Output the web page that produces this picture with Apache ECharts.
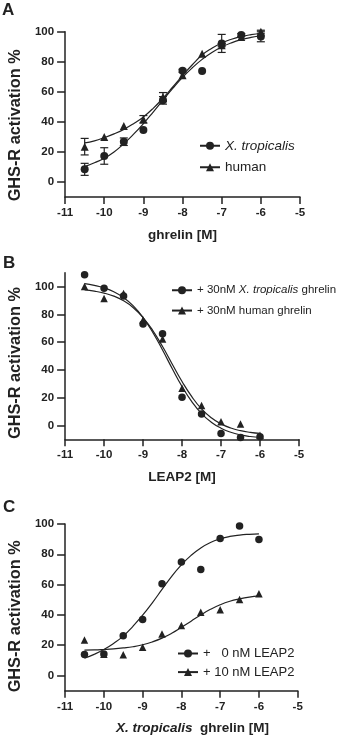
<!DOCTYPE html>
<html>
<head>
<meta charset="utf-8">
<script src="https://cdn.jsdelivr.net/npm/echarts@6/dist/echarts.min.js"></script>
<style>
html,body{margin:0;padding:0;background:#fff;}
#chart{width:338px;height:737px;}
</style>
</head>
<body>
<div id="chart"></div>
<script>
// ---------- data ----------
const doses = [-10.5, -10, -9.5, -9, -8.5, -8, -7.5, -7, -6.5, -6];
const xTicks = [-11, -10, -9, -8, -7, -6, -5];
const yTicks = [0, 20, 40, 60, 80, 100];
const curveX = [-10.5, -10.25, -10, -9.75, -9.5, -9.25, -9, -8.75, -8.5, -8.25, -8, -7.75, -7.5, -7.25, -7, -6.75, -6.5, -6.25, -6];

// Panel A: ghrelin dose response
const aTrop = [8.4, 17.3, 26.8, 34.6, 54.3, 74, 73.8, 92.2, 97.8, 96.8];
const aTropErr = [4, 5.5, 2.5, 0, 2.5, 1, 0, 6, 1, 3.5];
const aHuman = [23.5, 30, 37.3, 41.7, 56.5, 71, 85.3, 91, 96.5, 100];
const aHumanErr = [5.5, 0, 0, 2.5, 3, 0, 0, 1, 0, 1];
const aTropFit = [10.2, 12.8, 15.8, 20, 25.5, 31.8, 38.8, 46.5, 54.5, 62.3, 69.6, 76, 81.6, 86.2, 89.8, 92.6, 94.7, 96.2, 97.3];
const aHumanFit = [26, 27.4, 29.5, 32, 35, 38.8, 43.3, 49, 55.8, 63.2, 70.8, 78, 84.5, 89, 92.5, 95, 96.8, 98, 98.8];

// Panel B: LEAP2 inhibition
const bTrop = [108.5, 98.8, 93.2, 73, 66, 20.3, 8.2, -5.8, -8.7, -8.2];
const bHuman = [100, 91.5, 95, 76, 62.3, 26.8, 14.3, 2.7, 1, -7];
const bTropFit = [102.1, 100.9, 99.1, 96.3, 92.1, 86.1, 77.7, 66.9, 54.3, 40.8, 28, 17.1, 8.5, 2.3, -2, -4.9, -6.8, -8, -8.7];
const bHumanFit = [97.6, 96.7, 95.3, 93.1, 89.8, 84.8, 77.7, 68.3, 56.8, 44.1, 31.6, 20.7, 11.9, 5.5, 1.1, -1.9, -3.8, -5, -5.8];

// Panel C: ghrelin with/without LEAP2
const cZero = [13.9, 14.2, 26.3, 37, 60.6, 75, 69.9, 90.5, 98.7, 89.8];
const cTen = [23.5, 14, 13.7, 18.6, 27.4, 33, 41.8, 43.4, 50.2, 54];
const cZeroFit = [11.5, 14, 17.2, 21.2, 26, 32.5, 39.8, 48, 56.8, 65.5, 73, 79.3, 84.2, 87.8, 90.2, 91.8, 92.7, 93.2, 93.5];
const cTenFit = [16.8, 16.9, 17.2, 17.6, 18.2, 19, 20.3, 22.2, 24.7, 27.9, 31.8, 35.9, 40, 43.7, 46.7, 49, 50.6, 51.8, 52.6];

// ---------- styling ----------
const INK = '#222';
const FONT = '"Liberation Sans", Arial, Helvetica, sans-serif';

function pairs(xs, ys) { return xs.map((x, i) => [x, ys[i]]); }
function triples(xs, ys, es) { return xs.map((x, i) => [x, ys[i], es[i]]); }

function xAxisDef(gi, name, namePad) {
  return {
    type: 'value', gridIndex: gi, min: -11, max: -5, interval: 1,
    name: name, nameLocation: 'middle', nameGap: 31,
    nameTextStyle: { fontFamily: FONT, fontWeight: 'bold', fontSize: 13.5, color: INK, padding: namePad,
      rich: { i: { fontFamily: FONT, fontWeight: 'bold', fontStyle: 'italic', fontSize: 13.5, color: INK } } },
    axisLine: { show: true, onZero: false, lineStyle: { color: INK, width: 1.5 } },
    axisTick: { show: true, length: 7, customValues: xTicks, lineStyle: { color: INK, width: 1.5 } },
    axisLabel: { fontFamily: FONT, fontWeight: 'bold', fontSize: 11.5, color: INK, margin: 10, customValues: xTicks },
    splitLine: { show: false }
  };
}
function yAxisDef(gi, min, max, shiftPad) {
  return {
    type: 'value', gridIndex: gi, min: min, max: max,
    name: 'GHS-R activation %', nameLocation: 'middle', nameGap: 35,
    nameTextStyle: { fontFamily: FONT, fontWeight: 'bold', fontSize: 16.3, color: INK, padding: [0, shiftPad, 0, 0] },
    axisLine: { show: true, onZero: false, lineStyle: { color: INK, width: 1.5 } },
    axisTick: { show: true, length: 8, customValues: yTicks, lineStyle: { color: INK, width: 1.5 } },
    axisLabel: { fontFamily: FONT, fontWeight: 'bold', fontSize: 11.5, color: INK, margin: 11, customValues: yTicks },
    splitLine: { show: false }
  };
}

function fitSeries(name, gi, ys, symbol) {
  return {
    name: name, type: 'line', xAxisIndex: gi, yAxisIndex: gi,
    data: pairs(curveX, ys), smooth: true, showSymbol: false,
    symbol: symbol, symbolSize: 8,
    lineStyle: { color: INK, width: 1.2 }, itemStyle: { color: INK, opacity: 1 },
    z: 2, silent: true
  };
}
function pointSeries(gi, ys, symbol, size) {
  return {
    type: 'scatter', xAxisIndex: gi, yAxisIndex: gi,
    data: pairs(doses, ys), symbol: symbol, symbolSize: size,
    itemStyle: { color: INK, opacity: 1 }, z: 3, silent: true
  };
}
function errSeries(gi, ys, es) {
  return {
    type: 'custom', xAxisIndex: gi, yAxisIndex: gi,
    data: triples(doses, ys, es), z: 4, silent: true,
    renderItem: function (params, api) {
      const x = api.value(0), y = api.value(1), e = api.value(2);
      if (!e) return null;
      const t = api.coord([x, y + e]), b = api.coord([x, y - e]);
      const w = 4;
      const st = { stroke: INK, lineWidth: 1.2 };
      return { type: 'group', children: [
        { type: 'line', shape: { x1: t[0], y1: t[1], x2: b[0], y2: b[1] }, style: st },
        { type: 'line', shape: { x1: t[0] - w, y1: t[1], x2: t[0] + w, y2: t[1] }, style: st },
        { type: 'line', shape: { x1: b[0] - w, y1: b[1], x2: b[0] + w, y2: b[1] }, style: st }
      ] };
    }
  };
}

const legendNames = {
  aTrop: '{i|X. tropicalis}',
  aHuman: 'human',
  bTrop: '+ 30nM {i|X. tropicalis} ghrelin',
  bHuman: '+ 30nM human ghrelin',
  cZero: '+   0 nM LEAP2',
  cTen: '+ 10 nM LEAP2'
};
function legendDef(names, left, top, fontSize, gap) {
  return {
    data: names, left: left, top: top, orient: 'vertical', padding: 0,
    itemWidth: 20, itemHeight: 10, itemGap: gap,
    formatter: function (n) { return legendNames[n]; },
    textStyle: { fontFamily: FONT, fontSize: fontSize, color: INK, lineHeight: fontSize + 1,
      rich: { i: { fontFamily: FONT, fontStyle: 'italic', fontSize: fontSize, color: INK } } },
    selectedMode: false
  };
}

const titleStyle = { fontFamily: FONT, fontWeight: 'bold', fontSize: 17, color: INK };

const option = {
  animation: false,
  backgroundColor: '#fff',
  title: [
    { text: 'A', left: 2, top: 2, textStyle: titleStyle, padding: 0 },
    { text: 'B', left: 3, top: 255, textStyle: titleStyle, padding: 0 },
    { text: 'C', left: 3, top: 499, textStyle: titleStyle, padding: 0 }
  ],
  grid: [
    { left: 51, top: 31.7, width: 249, height: 165.3 },
    { left: 51, top: 272.7, width: 248, height: 166.6 },
    { left: 49.3, top: 524, width: 248.4, height: 166.7 }
  ],
  xAxis: [
    xAxisDef(0, 'ghrelin [M]', 0),
    xAxisDef(1, 'LEAP2 [M]', 0),
    xAxisDef(2, '{i|X. tropicalis}  ghrelin [M]', [0, 0, 0, 22])
  ],
  yAxis: [
    yAxisDef(0, -10, 100, 22),
    yAxisDef(1, -10, 110, 14),
    yAxisDef(2, -10, 100, 18)
  ],
  legend: [
    legendDef(['aTrop', 'aHuman'], 199, 138.5, 13.5, 7),
    legendDef(['bTrop', 'bHuman'], 171, 284, 11.5, 7.8),
    legendDef(['cZero', 'cTen'], 177, 646.5, 13, 4.6)
  ],
  series: [
    fitSeries('aTrop', 0, aTropFit, 'circle'),
    fitSeries('aHuman', 0, aHumanFit, 'triangle'),
    errSeries(0, aTrop, aTropErr),
    errSeries(0, aHuman, aHumanErr),
    pointSeries(0, aTrop, 'circle', 8),
    pointSeries(0, aHuman, 'triangle', 8),

    fitSeries('bTrop', 1, bTropFit, 'circle'),
    fitSeries('bHuman', 1, bHumanFit, 'triangle'),
    pointSeries(1, bTrop, 'circle', 7.5),
    pointSeries(1, bHuman, 'triangle', 7.5),

    fitSeries('cZero', 2, cZeroFit, 'circle'),
    fitSeries('cTen', 2, cTenFit, 'triangle'),
    pointSeries(2, cZero, 'circle', 7.5),
    pointSeries(2, cTen, 'triangle', 7.5)
  ]
};

const chart = echarts.init(document.getElementById('chart'), null, { renderer: 'canvas' });
chart.setOption(option);
</script>
</body>
</html>
